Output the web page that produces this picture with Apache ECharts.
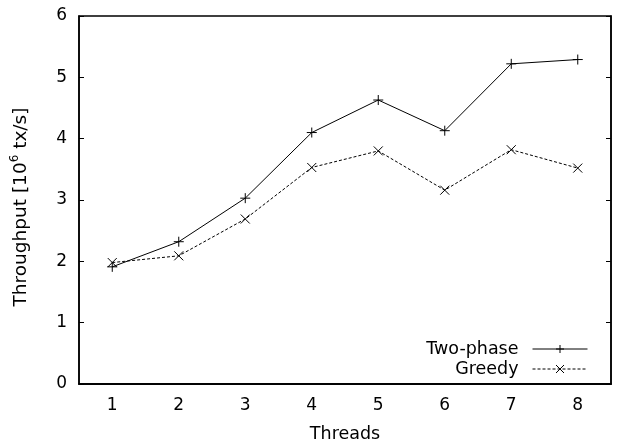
<!DOCTYPE html>
<html><head><meta charset="utf-8">
<script src="https://cdn.jsdelivr.net/npm/echarts@6/dist/echarts.min.js"></script>
<style>html,body{margin:0;padding:0;background:#fff}#c{width:618px;height:442px}</style>
</head><body><div id="c"></div>
<script>
const threads = ['1','2','3','4','5','6','7','8'];
const twoPhase = [1.91, 2.32, 3.03, 4.10, 4.63, 4.13, 5.22, 5.29];
const greedy = [1.98, 2.09, 2.69, 3.53, 3.80, 3.16, 3.82, 3.52];
const yTicks = [0, 1, 2, 3, 4, 5, 6];

const font = '"DejaVu Sans", "Liberation Sans", Arial, sans-serif';
const plusPath = 'path://M0,5L10,5M5,0L5,10';
const crossPath = 'path://M0,0L10,10M10,0L0,10';
const chart = echarts.init(document.getElementById('c'), null, {renderer: 'canvas'});
const axisTextStyle = {color: '#000', fontFamily: font, fontSize: 17};
chart.setOption({
  animation: false,
  backgroundColor: '#fff',
  grid: {left: 79, right: 7, top: 16, bottom: 58, show: true, borderColor: '#000', borderWidth: 1.5,
         backgroundColor: 'transparent', containLabel: false, outerBoundsMode: 'none'},
  legend: {
    orient: 'vertical', right: 30, top: 339, align: 'right', itemGap: 0, padding: 0,
    itemWidth: 55, itemHeight: 10,
    lineStyle: {width: 1},
    itemStyle: {borderWidth: 1},
    textStyle: {color: '#000', fontFamily: font, fontSize: 17.5, lineHeight: 20, padding: [0, 9, 0, 0]},
    data: [
      {name: 'Two-phase'},
      {name: 'Greedy'}
    ]
  },
  xAxis: [{
    type: 'category', data: threads, boundaryGap: true,
    name: 'Threads', nameLocation: 'middle', nameGap: 41,
    nameTextStyle: {color: '#000', fontFamily: font, fontSize: 17.5},
    axisLine: {lineStyle: {color: '#000', width: 1.5}},
    axisTick: {inside: true, alignWithLabel: true, length: 5, lineStyle: {color: '#000', width: 1}},
    axisLabel: Object.assign({margin: 13}, axisTextStyle),
    splitLine: {show: false}
  }, {
    type: 'category', data: threads, boundaryGap: true, position: 'top',
    axisLine: {lineStyle: {color: '#000', width: 1.5}},
    axisTick: {inside: true, alignWithLabel: true, length: 5, lineStyle: {color: '#000', width: 1}},
    axisLabel: {show: false}, splitLine: {show: false}
  }],
  yAxis: [{
    type: 'value', min: yTicks[0], max: yTicks[yTicks.length - 1], interval: 1,
    name: '{a|Throughput [10}{s|6}{a| tx/s]}', nameLocation: 'middle', nameGap: 48, nameRotate: 90,
    nameTextStyle: {
      color: '#000', fontFamily: font, fontSize: 18.5, padding: [0, 14, 0, 0],
      rich: {
        a: {color: '#000', fontFamily: font, fontSize: 18.5, lineHeight: 22, verticalAlign: 'bottom'},
        s: {color: '#000', fontFamily: font, fontSize: 12, lineHeight: 22, verticalAlign: 'top'}
      }
    },
    axisLine: {show: true, lineStyle: {color: '#000', width: 1.5}},
    axisTick: {show: true, inside: true, length: 5, lineStyle: {color: '#000', width: 1}},
    axisLabel: Object.assign({margin: 12}, axisTextStyle),
    splitLine: {show: false}
  }, {
    type: 'value', min: yTicks[0], max: yTicks[yTicks.length - 1], interval: 1, position: 'right',
    axisLine: {show: true, lineStyle: {color: '#000', width: 1.5}},
    axisTick: {show: true, inside: true, length: 5, lineStyle: {color: '#000', width: 1}},
    axisLabel: {show: false}, splitLine: {show: false}
  }],
  series: [{
    name: 'Two-phase', type: 'line', data: twoPhase,
    symbol: plusPath, symbolSize: 10,
    lineStyle: {color: '#000', width: 1},
    itemStyle: {color: 'rgba(0,0,0,0)', borderColor: '#000', borderWidth: 1},
    emphasis: {disabled: true}
  }, {
    name: 'Greedy', type: 'line', data: greedy,
    symbol: crossPath, symbolSize: 9,
    lineStyle: {color: '#000', width: 1, type: [3, 2]},
    itemStyle: {color: 'rgba(0,0,0,0)', borderColor: '#000', borderWidth: 1},
    emphasis: {disabled: true}
  }]
});
</script></body></html>
